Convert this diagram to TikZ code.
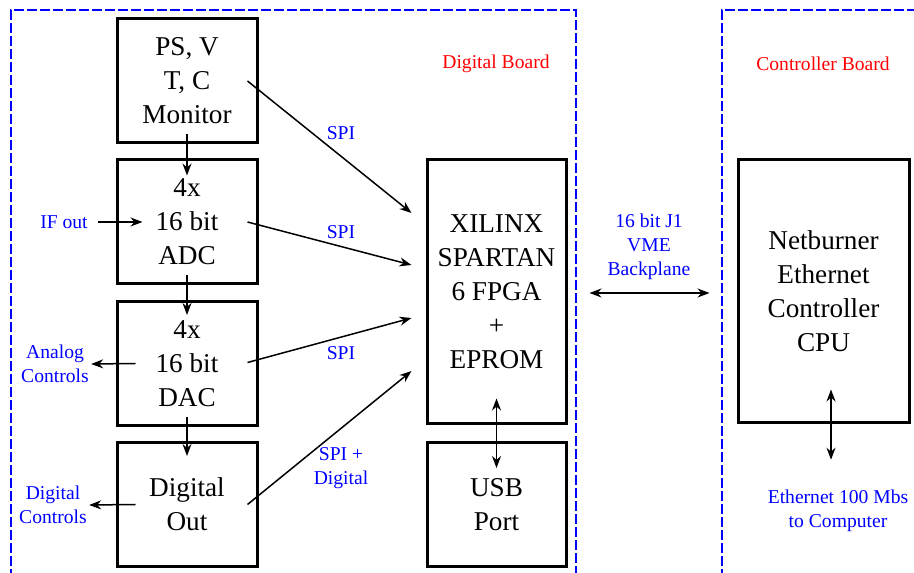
\documentclass[tikz,border=0pt]{standalone}
\usepackage{fontspec}
\setmainfont{Liberation Serif}
\usetikzlibrary{arrows.meta,calc}

\begin{document}
\begin{tikzpicture}[x=0.5pt,y=0.5pt,
  blk/.style={draw,line width=1.5pt,inner sep=0pt,align=center,font=\fontsize{13.6}{17}\selectfont},
  lbl/.style={text=blue,align=center,inner sep=1pt,font=\fontsize{9.8}{12}\selectfont},
  ttl/.style={text=red,font=\fontsize{9.8}{12}\selectfont},
  board/.style={draw=blue,line width=0.75pt,dash pattern=on 5pt off 1.5pt},
  sig/.style={-{Stealth[length=6pt,width=4.5pt]},line width=0.75pt},
  bus/.style={{Stealth[length=6pt,width=4.5pt]}-{Stealth[length=6pt,width=4.5pt]},line width=0.75pt}]
\useasboundingbox (0,0) rectangle (914,572);
% the two boards
\draw[board] (11,-20) |- (576,562) -- (576,-20);
\draw[board] (722,-20) |- (940,562);
\node[ttl] (dbrd) at (496,508) {Digital Board};
\node[ttl] (cbrd) at (823,508) {Controller Board};
% digital board blocks
\node[blk,minimum width=70pt,minimum height=62pt] (mon) at (187,491) {PS, V\\T, C\\Monitor};
\node[blk,minimum width=70pt,minimum height=62pt] (adc) at (187,350) {4x\\16 bit\\ADC};
\node[blk,minimum width=70pt,minimum height=62pt] (dac) at (187,208.5) {4x\\16 bit\\DAC};
\node[blk,minimum width=70pt,minimum height=62pt] (dout) at (187,67.5) {Digital\\Out};
\node[blk,minimum width=69.5pt,minimum height=132pt] (fpga) at (496.5,280) {XILINX\\SPARTAN\\6 FPGA\\+\\EPROM};
\node[blk,minimum width=69.5pt,minimum height=62pt] (usb) at (496.5,67.5) {USB\\Port};
% controller board
\node[blk,minimum width=85.5pt,minimum height=131.5pt] (cpu) at (823.5,280.5) {Netburner\\Ethernet\\Controller\\CPU};
% labels
\node[lbl] (ifout) at (64,350) {IF out};
\node[lbl] (anlg) at (55,208) {Analog\\Controls};
\node[lbl] (dctl) at (53,67) {Digital\\Controls};
\node[lbl] (spia) at (341,439) {SPI};
\node[lbl] (spib) at (341,340) {SPI};
\node[lbl] (spic) at (341,219) {SPI};
\node[lbl] (spid) at (341,104) {SPI +\\Digital};
\node[lbl] (vme) at (649,325) {16 bit J1\\VME\\Backplane};
\node[lbl] (eth) at (838,61) {Ethernet 100 Mbs\\to Computer};
% chain down the left column
\draw[sig] ($(mon.south)+(0,10)$) -- ($(adc.north)+(0,-17)$);
\draw[sig] ($(adc.south)+(0,10)$) -- ($(dac.north)+(0,-15)$);
\draw[sig] ($(dac.south)+(0,10)$) -- ($(dout.north)+(0,-15)$);
\draw[sig,shorten <=4pt] (ifout.east) -- ($(adc.west)+(27,0)$);
\draw[sig] ($(dac.west)+(20,0)$) -- (anlg.east);
\draw[sig] ($(dout.west)+(20,0)$) -- (dctl.east);
% into the FPGA
\draw[sig] ($(mon.east)+(-11,0)$) -- ($(fpga.west)+(-14,79)$);
\draw[sig] ($(adc.east)+(-11,0)$) -- ($(fpga.west)+(-14,27)$);
\draw[sig] ($(dac.east)+(-11,1)$) -- ($(fpga.west)+(-14,-26)$);
\draw[sig] ($(dout.east)+(-11,0)$) -- ($(fpga.west)+(-14,-79)$);
% buses
\draw[bus] ($(fpga.south)+(0,27)$) -- ($(usb.north)+(0,-27)$);
\draw[bus] ($(fpga.east)+(22,-1)$) -- ($(cpu.west)+(-27,-1.5)$);
\draw[bus] ($(cpu.south)+(7.5,35)$) -- ($(eth.north)+(-7,28)$);
\end{tikzpicture}
\end{document}
